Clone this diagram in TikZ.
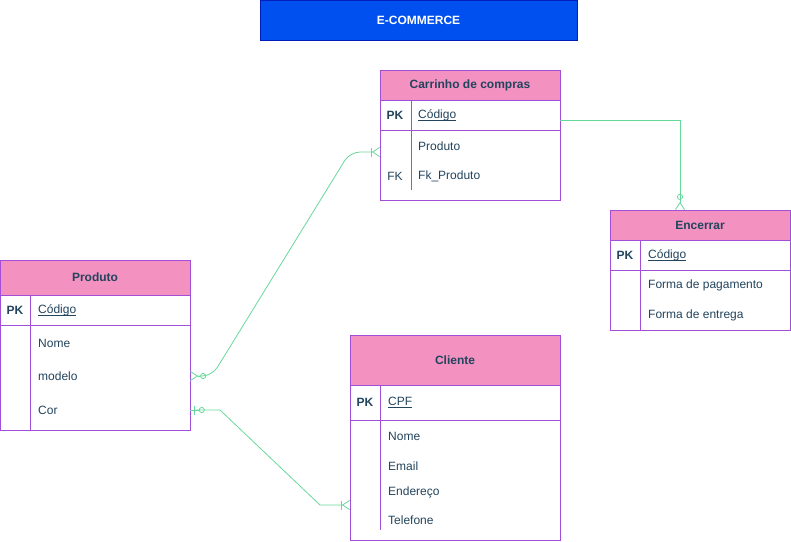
\documentclass[tikz,border=0pt]{standalone}
\usepackage{fontspec}
\setmainfont{Liberation Sans}
\usetikzlibrary{positioning,arrows.meta}

\definecolor{erpink}{HTML}{F391C0}
\definecolor{erline}{HTML}{A04FD6}
\definecolor{ertext}{HTML}{23445D}
\definecolor{erlink}{HTML}{67D89B}
\definecolor{titlefill}{HTML}{0050EF}
\definecolor{titleline}{HTML}{001DBC}
\newcommand{\keyname}[1]{\underline{\raisebox{0pt}[\height][0pt]{#1}}}

\tikzset{
  crow/.tip={Straight Barb[reversed, length=7pt, width=9pt, line width=0.8pt]},
  one/.tip={Bar[width=9pt, line width=0.8pt, sep=0pt]},
  zero/.tip={Circle[open, length=6pt, line width=0.8pt]},
  stub/.tip={Rectangle[length=4pt, width=0.8pt, line width=0pt, sep=0pt]}
}

\begin{document}
\begin{tikzpicture}[
      x=1pt, y=-1pt,
      every node/.style = {font=\fontsize{12}{14}\selectfont, text=ertext, inner sep=0pt},
      tablehead/.style={draw=erline, fill=erpink, line width=1pt, outer sep=0pt, minimum width=180pt, minimum height=30pt,
                        font=\fontsize{12}{14}\selectfont\bfseries},
      tablerow/.style={draw=erline, fill=white, line width=1pt, outer sep=0pt, minimum width=180pt},
      keytext/.style={font=\fontsize{12}{14}\selectfont\bfseries},
      fieldtext/.style={anchor=west},
      innerline/.style={draw=erline, line width=1pt},
      relation/.style={draw=erlink, line width=0.8pt, rounded corners=10pt}
    ]
    \useasboundingbox (0,0) rectangle (791,541);

    % title
    \node (title) [draw=titleline, fill=titlefill, line width=1pt, minimum width=317pt, minimum height=40pt,
                   text=white, font=\fontsize{12}{14}\selectfont\bfseries] at (418.5,20) {E-COMMERCE};

    % Carrinho de compras
    \node (carrinhohead) [tablehead] at (470,85) {Carrinho de compras};
    \node (carrinhopk)   [tablerow, minimum height=30pt, below=0pt of carrinhohead] {};
    \node (carrinhobody) [tablerow, minimum height=70pt, below=0pt of carrinhopk] {};
    \draw[innerline] ([xshift=31pt]carrinhopk.north west) -- ([xshift=31pt, yshift=10pt]carrinhobody.south west);
    \node (carrinhopkkey)   [keytext] at ([xshift=15pt]carrinhopk.west) {PK};
    \node (carrinhocodigo)  [fieldtext] at ([xshift=38pt]carrinhopk.west) {\keyname{Código}};
    \node (carrinhoproduto) [fieldtext] at ([xshift=38pt, yshift=-16pt]carrinhobody.north west) {Produto};
    \node (carrinhofkkey)   at ([xshift=15pt, yshift=-46pt]carrinhobody.north west) {FK};
    \node (carrinhofk)      [fieldtext] at ([xshift=38pt, yshift=-46pt]carrinhobody.north west) {Fk\_Produto};

    % Encerrar
    \node (encerrarhead) [tablehead] at (700,225) {Encerrar};
    \node (encerrarpk)   [tablerow, minimum height=30pt, below=0pt of encerrarhead] {};
    \node (encerrarbody) [tablerow, minimum height=60pt, below=0pt of encerrarpk] {};
    \draw[innerline] ([xshift=30pt]encerrarpk.north west) -- ([xshift=30pt]encerrarbody.south west);
    \node (encerrarpkkey)    [keytext] at ([xshift=15pt]encerrarpk.west) {PK};
    \node (encerrarcodigo)   [fieldtext] at ([xshift=38pt]encerrarpk.west) {\keyname{Código}};
    \node (encerrarpagamento) [fieldtext] at ([xshift=38pt, yshift=-15pt]encerrarbody.north west) {Forma de pagamento};
    \node (encerrarentrega)  [fieldtext] at ([xshift=38pt, yshift=-45pt]encerrarbody.north west) {Forma de entrega};

    % Produto
    \node (produtohead) [tablehead, minimum width=190pt, minimum height=35pt] at (95,277.5) {Produto};
    \node (produtopk)   [tablerow, minimum width=190pt, minimum height=30pt, below=0pt of produtohead] {};
    \node (produtobody) [tablerow, minimum width=190pt, minimum height=105pt, below=0pt of produtopk] {};
    \draw[innerline] ([xshift=30pt]produtopk.north west) -- ([xshift=30pt]produtobody.south west);
    \node (produtopkkey)  [keytext] at ([xshift=15pt]produtopk.west) {PK};
    \node (produtocodigo) [fieldtext] at ([xshift=38pt]produtopk.west) {\keyname{Código}};
    \node (produtonome)   [fieldtext] at ([xshift=38pt, yshift=-18pt]produtobody.north west) {Nome};
    \node (produtomodelo) [fieldtext] at ([xshift=38pt, yshift=-51pt]produtobody.north west) {modelo};
    \node (produtocor)    [fieldtext] at ([xshift=38pt, yshift=-85pt]produtobody.north west) {Cor};

    % Cliente
    \node (clientehead) [tablehead, minimum width=210pt, minimum height=50pt] at (455,360) {Cliente};
    \node (clientepk)   [tablerow, minimum width=210pt, minimum height=35pt, below=0pt of clientehead] {};
    \node (clientebody) [tablerow, minimum width=210pt, minimum height=120pt, below=0pt of clientepk] {};
    \draw[innerline] ([xshift=30pt]clientepk.north west) -- ([xshift=30pt, yshift=10pt]clientebody.south west);
    \node (clientepkkey)   [keytext] at ([xshift=15pt]clientepk.west) {PK};
    \node (clientecpf)     [fieldtext] at ([xshift=38pt]clientepk.west) {\keyname{CPF}};
    \node (clientenome)    [fieldtext] at ([xshift=38pt, yshift=-16pt]clientebody.north west) {Nome};
    \node (clienteemail)   [fieldtext] at ([xshift=38pt, yshift=-46pt]clientebody.north west) {Email};
    \node (clienteendereco) [fieldtext] at ([xshift=38pt, yshift=-72pt]clientebody.north west) {Endereço};
    \node (clientetelefone) [fieldtext] at ([xshift=38pt, yshift=-100pt]clientebody.north west) {Telefone};

    % attachment points
    \coordinate (carrinhoin) at ([yshift=-22pt]carrinhobody.north west);
    \coordinate (carrinhoout) at ([yshift=-5pt]carrinhopk.east);
    \coordinate (encerrarin) at ([xshift=-20pt]encerrarhead.north);
    \coordinate (clientein) at ([yshift=35pt]clientebody.south west);

    % relations
    \draw[relation, {crow[] stub[length=2pt] zero[]}-{one[] crow[]}] (produtomodelo -| produtobody.east) -- ++(22,0)
          -- ([xshift=-30pt]carrinhoin) -- (carrinhoin);
    \draw[relation, {stub[] one[] stub[length=4pt] zero[]}-{one[] crow[]}, rounded corners=0pt] (produtocor -| produtobody.east) -- ++(30,0)
          -- ([xshift=-30pt]clientein) -- (clientein);
    \draw[relation, -{zero[] stub[length=2pt] crow[]}, rounded corners=0pt] (carrinhoout) -| (encerrarin);
  \end{tikzpicture}
\end{document}
